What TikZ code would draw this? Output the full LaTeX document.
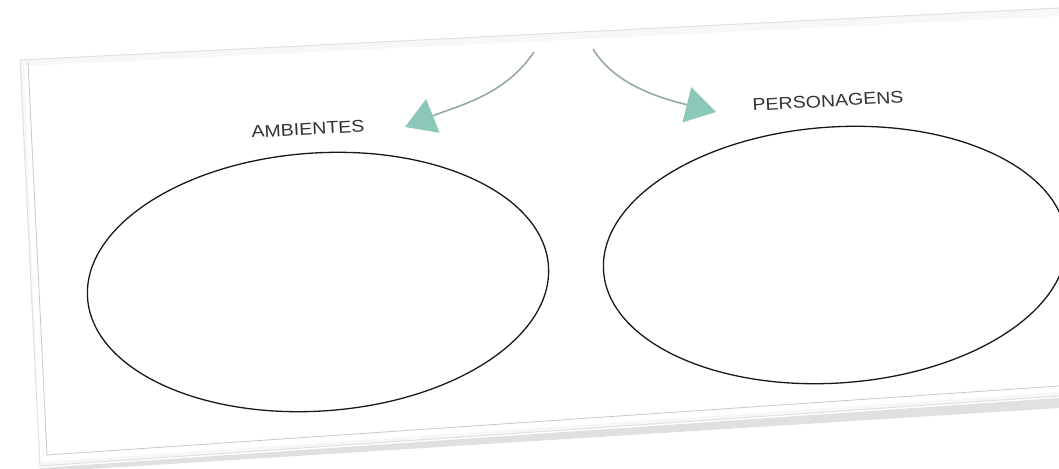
\documentclass[tikz,border=0pt]{standalone}
\usepackage{fontspec}
\setmainfont{Liberation Sans}
\usetikzlibrary{arrows.meta,shapes.geometric}
\definecolor{teal1}{RGB}{140,200,186}
\definecolor{shaft}{RGB}{150,170,165}
\begin{document}
\begin{tikzpicture}[x=1pt,y=-1pt,
  sheetedge/.style={draw=black!12, line width=1pt},
  innerline/.style={draw=black!22, line width=0.8pt},
  oval/.style={draw=black!90, line width=1.3pt, ellipse, inner sep=0pt, rotate=4},
  label/.style={font=\fontsize{17}{17}\selectfont, text=black!80, inner sep=0pt, rotate=3, xscale=1.15},
  flow/.style={draw=shaft, line width=1.6pt, -{Triangle[width=36pt,length=30pt,fill=teal1,color=teal1]}}]
\useasboundingbox (0,0) rectangle (1059,468);
\fill[white] (0,0) rectangle (1059,468);
% sheet shadow
\fill[black!12] (40,468) -- (1059,398) -- (1059,408) -- (42,472) -- cycle;
\fill[black!3] (20,60) -- (1059,8) -- (1059,396) -- (40,466) -- cycle;
\fill[white] (24,66) -- (1059,16) -- (1059,392) -- (40,462) -- cycle;
% sheet edges
\draw[sheetedge] (20,60) -- (1059,8);
\draw[sheetedge] (20,60) -- (40,466) -- (1059,396);
\draw[innerline] (28,62) -- (47,455) -- (1059,386);
% ovals
\node[oval, minimum width=462pt, minimum height=258pt] (oa) at (318,282) {};
\node[oval, minimum width=464pt, minimum height=256pt] (ob) at (835,255) {};
% labels
\node[label] (amb) at (308,129) {AMBIENTES};
\node[label] (per) at (828,101) {PERSONAGENS};
% arrows
\coordinate (s1) at (534,52);
\coordinate (t1) at (405,127);
\coordinate (s2) at (593,49);
\coordinate (t2) at (716,112);
\draw[flow] (s1) .. controls (505,95) and (460,105) .. (t1);
\draw[flow] (s2) .. controls (615,85) and (660,98) .. (t2);
\end{tikzpicture}
\end{document}
